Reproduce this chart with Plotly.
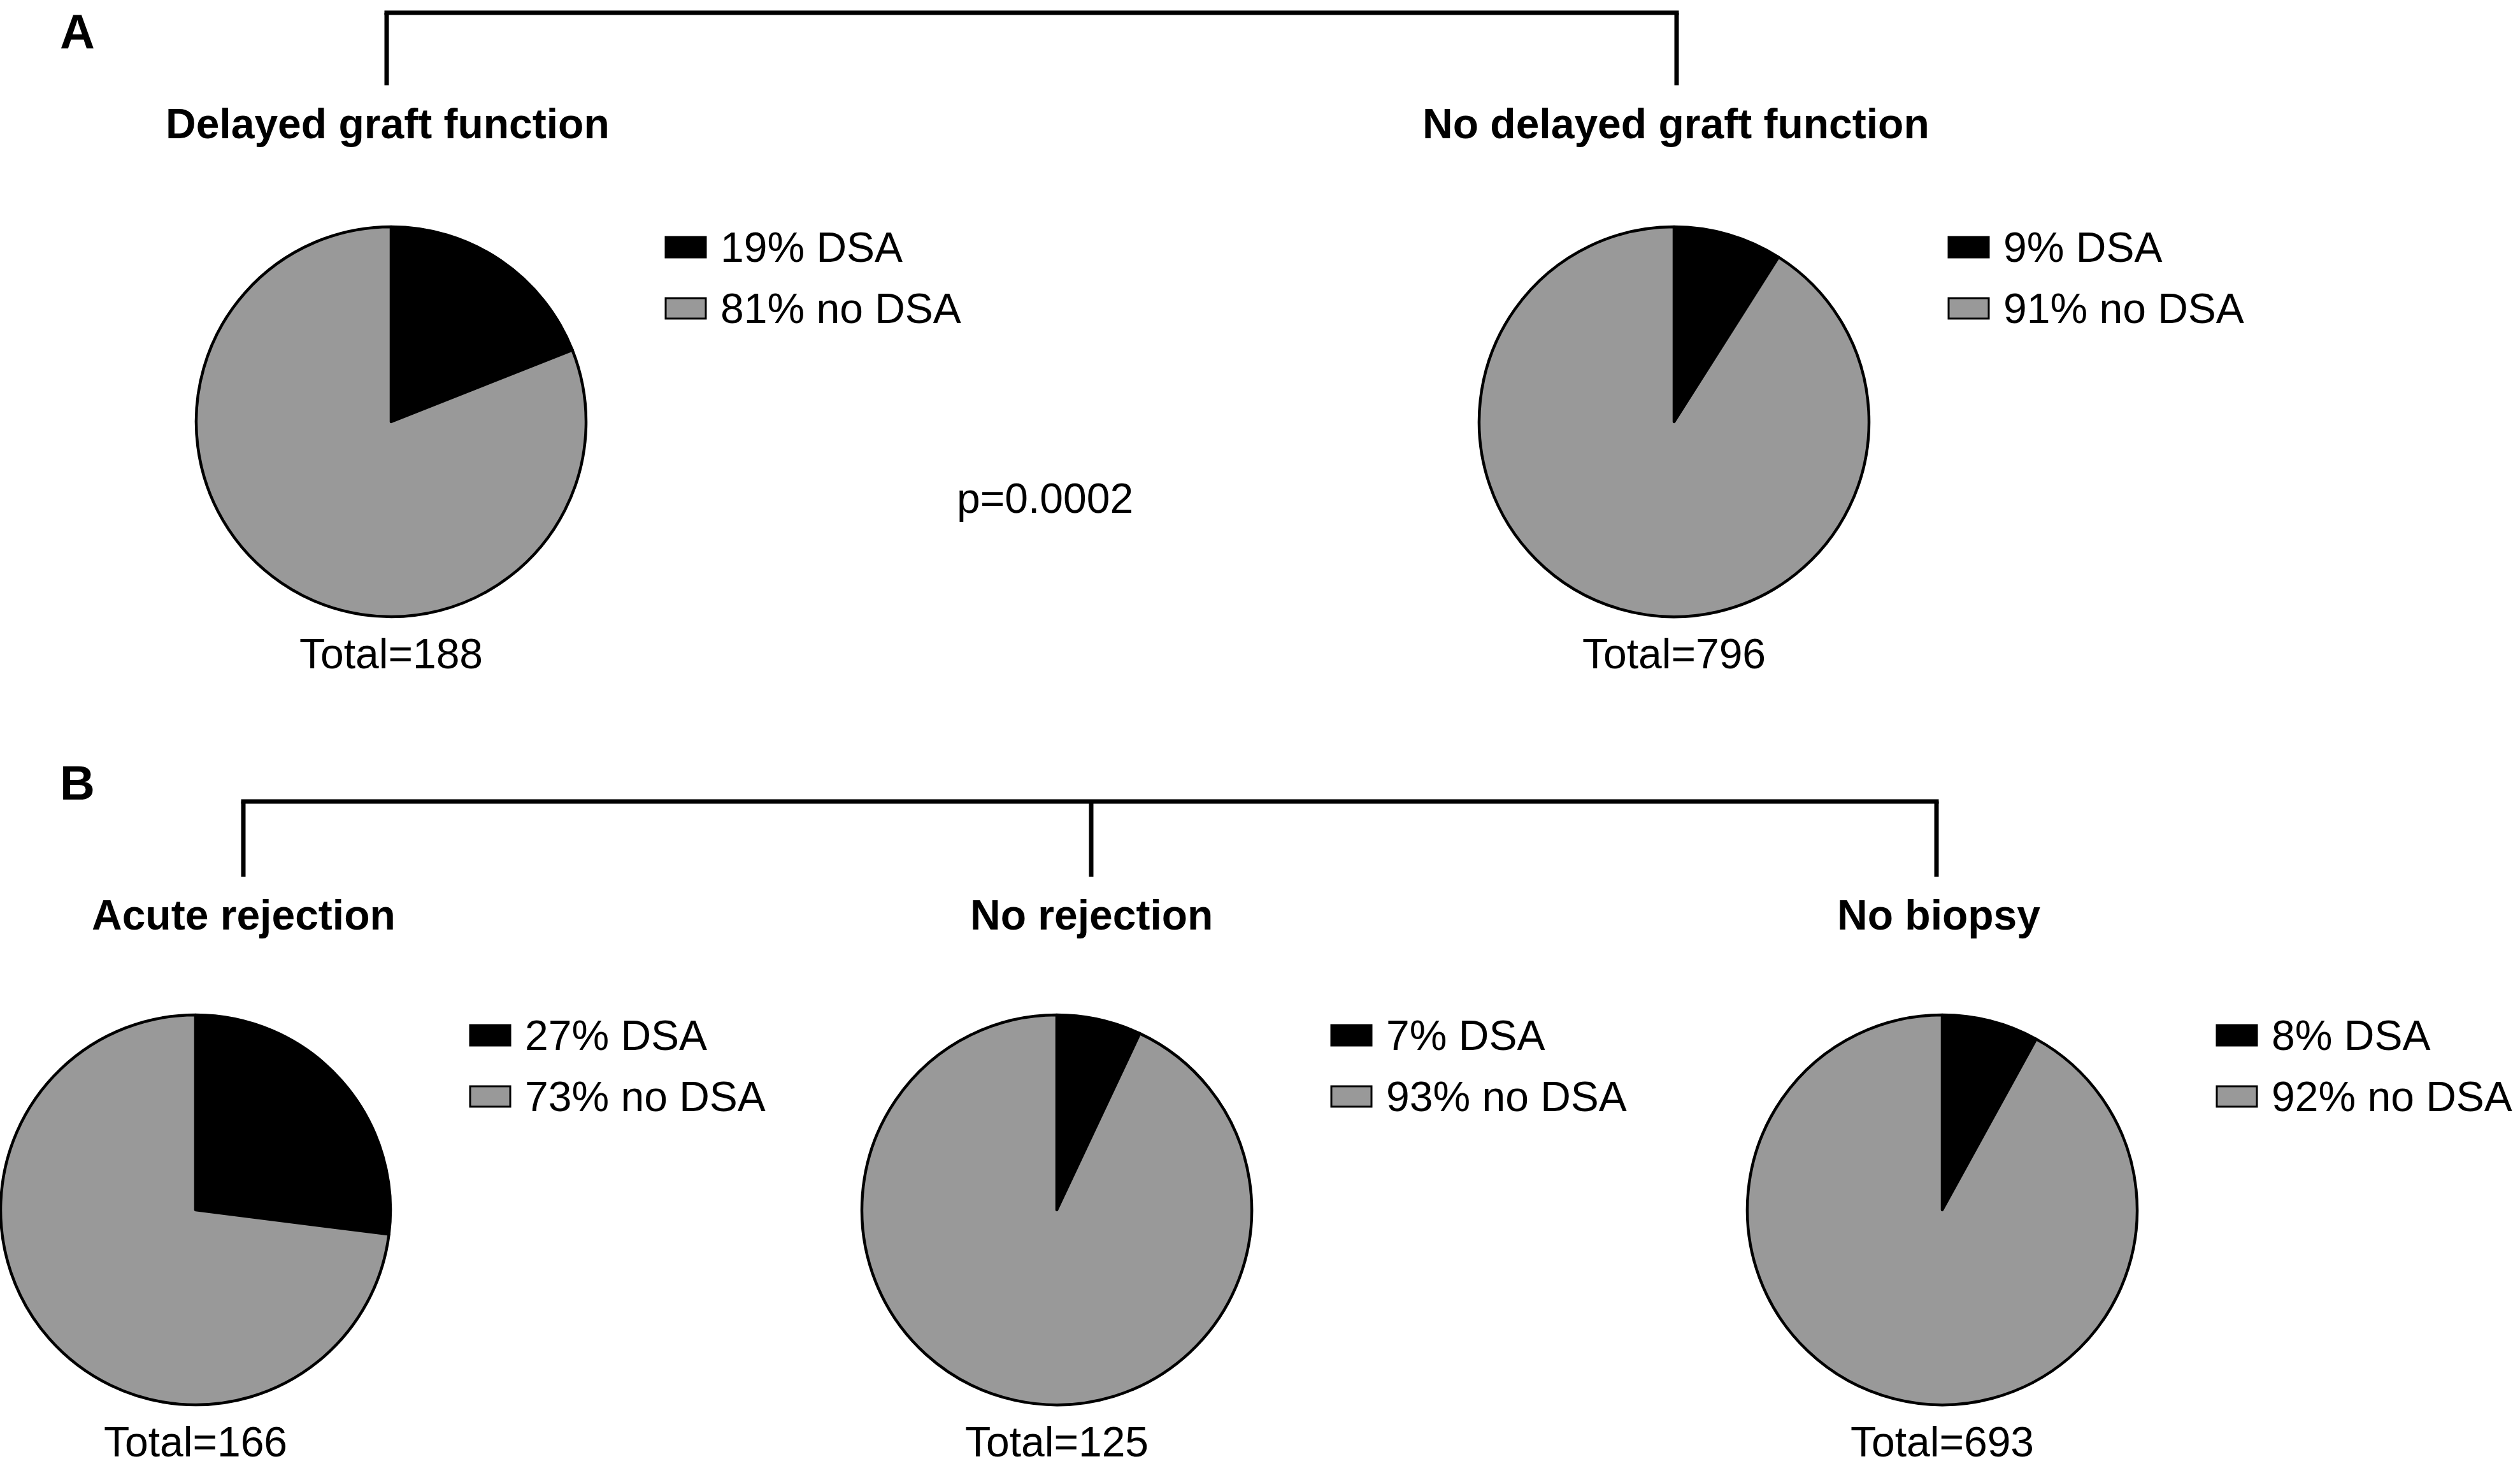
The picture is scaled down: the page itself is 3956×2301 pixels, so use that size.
import plotly.graph_objects as go

# ---------------- data ----------------
groups = ["Delayed graft function", "No delayed graft function",
          "Acute rejection", "No rejection", "No biopsy"]
dsa_pct = [19, 9, 27, 7, 8]
no_dsa_pct = [81, 91, 73, 93, 92]
totals = [188, 796, 166, 125, 693]
slice_labels = ["DSA", "no DSA"]
panel_labels = ["A", "B"]
p_value_text = "p=0.0002"

# ---------------- layout (pixels) ----------------
W, H = 3956, 2301
R = 306
centers = [(614, 662), (2628, 662), (307, 1899), (1659, 1899), (3049, 1899)]
title_pos = [(608, 194), (2631, 194), (382, 1436), (1713, 1436), (3043, 1436)]
panel_pos = [(121, 50), (121, 1228)]
brackets = [dict(y=20, xs=[607, 2632], bottom=134),
            dict(y=1258, xs=[382, 1713, 3040], bottom=1376)]
p_pos = (1640, 782)

BLACK = "#000000"
GREY = "#999999"
FONT = "Liberation Sans, Arial, Helvetica, sans-serif"
FS = 66
LW = 7


def px(x):
    return x / W


def py(y):
    return 1 - y / H


fig = go.Figure()
shapes = []
annotations = []

for i, g in enumerate(groups):
    cx, cy = centers[i]
    fig.add_trace(go.Pie(
        labels=slice_labels,
        values=[dsa_pct[i], no_dsa_pct[i]],
        sort=False,
        direction="clockwise",
        rotation=0,
        textinfo="none",
        hoverinfo="label+percent",
        marker=dict(colors=[BLACK, GREY], line=dict(color=BLACK, width=4.5)),
        domain=dict(x=[px(cx - R), px(cx + R)], y=[py(cy + R), py(cy - R)]),
        showlegend=False,
        name=g,
    ))
    # title
    tx, ty = title_pos[i]
    annotations.append(dict(x=px(tx), y=py(ty), xref="paper", yref="paper",
                            text="<b>" + g + "</b>", showarrow=False,
                            xanchor="center", yanchor="middle",
                            font=dict(size=FS, family=FONT, color=BLACK)))
    # total
    annotations.append(dict(x=px(cx), y=py(cy + 364), xref="paper", yref="paper",
                            text="Total=%d" % totals[i], showarrow=False,
                            xanchor="center", yanchor="middle",
                            font=dict(size=FS, family=FONT, color=BLACK)))
    # legend
    leg_texts = ["%d%% %s" % (dsa_pct[i], slice_labels[0]),
                 "%d%% %s" % (no_dsa_pct[i], slice_labels[1])]
    row_offsets = [-274, -178]
    fills = [BLACK, GREY]
    sx0 = cx + 431
    for k in range(2):
        ry = cy + row_offsets[k]
        shapes.append(dict(type="rect", xref="paper", yref="paper",
                           x0=px(sx0), x1=px(sx0 + 63),
                           y0=py(ry + 16), y1=py(ry - 16),
                           fillcolor=fills[k],
                           line=dict(color=BLACK, width=3)))
        annotations.append(dict(x=px(sx0 + 84), y=py(ry), xref="paper", yref="paper",
                                text=leg_texts[k], showarrow=False,
                                xanchor="left", yanchor="middle",
                                font=dict(size=FS, family=FONT, color=BLACK)))

# brackets
for b in brackets:
    y = b["y"]
    xs = b["xs"]
    shapes.append(dict(type="line", xref="paper", yref="paper",
                       x0=px(xs[0] - LW / 2), x1=px(xs[-1] + LW / 2),
                       y0=py(y), y1=py(y), line=dict(color=BLACK, width=LW)))
    for x in xs:
        shapes.append(dict(type="line", xref="paper", yref="paper",
                           x0=px(x), x1=px(x), y0=py(y), y1=py(b["bottom"]),
                           line=dict(color=BLACK, width=LW)))

# panel labels
for lab, (lx, ly) in zip(panel_labels, panel_pos):
    annotations.append(dict(x=px(lx), y=py(ly), xref="paper", yref="paper",
                            text="<b>" + lab + "</b>", showarrow=False,
                            xanchor="center", yanchor="middle",
                            font=dict(size=76, family=FONT, color=BLACK)))

# p value
annotations.append(dict(x=px(p_pos[0]), y=py(p_pos[1]), xref="paper", yref="paper",
                        text=p_value_text, showarrow=False,
                        xanchor="center", yanchor="middle",
                        font=dict(size=FS, family=FONT, color=BLACK)))

fig.update_layout(
    width=W, height=H,
    margin=dict(l=0, r=0, t=0, b=0),
    paper_bgcolor="white", plot_bgcolor="white",
    showlegend=False,
    shapes=shapes,
    annotations=annotations,
)

fig.write_html("out.html",
               config={"displayModeBar": False},
               post_script="document.body.style.margin='0px';document.body.style.overflow='hidden';")
